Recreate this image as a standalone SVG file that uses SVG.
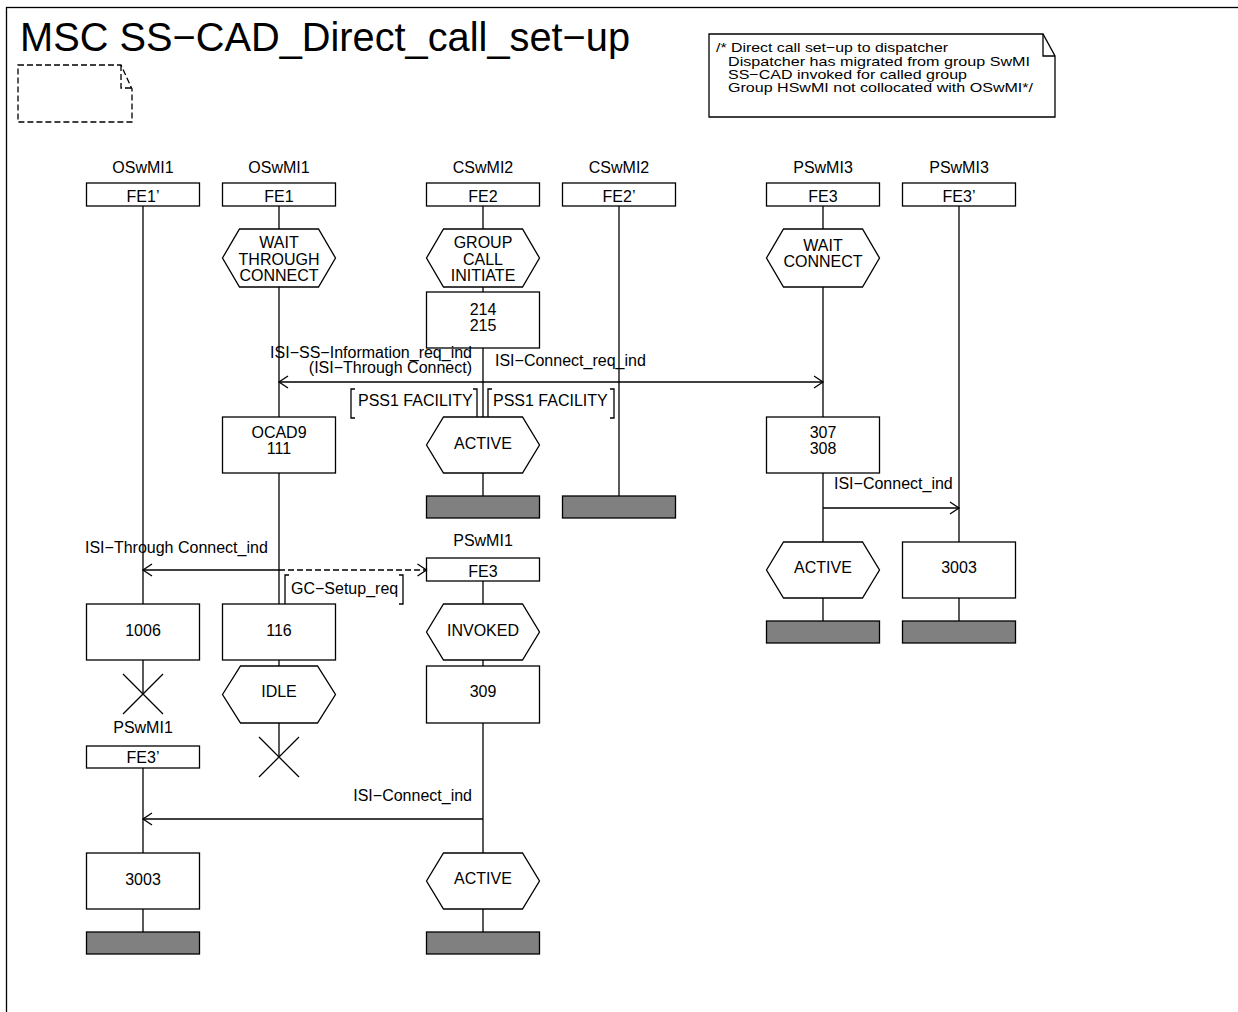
<svg xmlns="http://www.w3.org/2000/svg" width="1238" height="1012" viewBox="0 0 1238 1012">
<style>
text{font-family:"Liberation Sans",Arial,sans-serif;font-size:16px;fill:#000}
.c{text-anchor:middle}
.r{text-anchor:end}
.s{fill:#fff;stroke:#000;stroke-width:1.3}
.l{stroke:#000;stroke-width:1.3;fill:none}
.bar{fill:#808080;stroke:#000;stroke-width:1.3}
.d{stroke:#000;stroke-width:1.3;fill:none;stroke-dasharray:6 3}
.cm{font-size:13.5px}
</style>
<defs>
<marker id="ah" markerUnits="userSpaceOnUse" markerWidth="12" markerHeight="14" refX="10" refY="7" orient="auto">
<path d="M1,1 L10,7 L1,13" fill="none" stroke="#000" stroke-width="1.3"/>
</marker>
</defs>
<rect width="1238" height="1012" fill="#fff"/>
<rect x="6.5" y="7.5" width="1260" height="1030" class="l"/>
<text x="20" y="51" style="font-size:40px" textLength="610" lengthAdjust="spacingAndGlyphs">MSC SS−CAD_Direct_call_set−up</text>
<g id="note">
<path d="M18,65 H121 L132,89 V122 H18 Z" class="d" stroke-dasharray="5 3"/>
<path d="M121,65 V88 H132" class="d" stroke-dasharray="5 3"/>
</g>
<g id="comment">
<path d="M709,34 H1043 L1055,56 V117 H709 Z" class="s"/>
<path d="M1043,34 V56 H1055" class="l"/>
<text x="716" y="52" class="cm" textLength="232" lengthAdjust="spacingAndGlyphs">/* Direct call set−up to dispatcher</text>
<text x="728" y="65.5" class="cm" textLength="302" lengthAdjust="spacingAndGlyphs">Dispatcher has migrated from group SwMI</text>
<text x="728" y="78.5" class="cm" textLength="239" lengthAdjust="spacingAndGlyphs">SS−CAD invoked for called group</text>
<text x="728" y="92" class="cm" textLength="305" lengthAdjust="spacingAndGlyphs">Group HSwMI not collocated with OSwMI*/</text>
</g>
<g id="lifelines" class="l">
<path d="M143,206 V604 M143,660 V694"/>
<path d="M279,206 V229 M279,287 V417 M279,473 V604 M279,660 V666 M279,723 V757"/>
<path d="M483,206 V229 M483,287 V292 M483,348 V417 M483,473 V496"/>
<path d="M619,206 V496"/>
<path d="M823,206 V229 M823,287 V417 M823,473 V542 M823,598 V621"/>
<path d="M959,206 V542 M959,598 V621"/>
<path d="M483,581 V604 M483,660 V666 M483,723 V853 M483,909 V932"/>
<path d="M143,768 V853 M143,909 V932"/>
</g>
<g id="inst-FE1p">
<text x="143" y="173" class="c">OSwMI1</text>
<rect x="86.5" y="183" width="113" height="23" class="s"/>
<text x="143" y="202" class="c">FE1’</text>
</g>
<g id="inst-FE1">
<text x="279" y="173" class="c">OSwMI1</text>
<rect x="222.5" y="183" width="113" height="23" class="s"/>
<text x="279" y="202" class="c">FE1</text>
</g>
<g id="inst-FE2">
<text x="483" y="173" class="c">CSwMI2</text>
<rect x="426.5" y="183" width="113" height="23" class="s"/>
<text x="483" y="202" class="c">FE2</text>
</g>
<g id="inst-FE2p">
<text x="619" y="173" class="c">CSwMI2</text>
<rect x="562.5" y="183" width="113" height="23" class="s"/>
<text x="619" y="202" class="c">FE2’</text>
</g>
<g id="inst-FE3">
<text x="823" y="173" class="c">PSwMI3</text>
<rect x="766.5" y="183" width="113" height="23" class="s"/>
<text x="823" y="202" class="c">FE3</text>
</g>
<g id="inst-FE3p">
<text x="959" y="173" class="c">PSwMI3</text>
<rect x="902.5" y="183" width="113" height="23" class="s"/>
<text x="959" y="202" class="c">FE3’</text>
</g>
<g id="st-wait-through">
<path d="M222.5,258 L239.5,229 H318.5 L335.5,258 L318.5,287 H239.5 Z" class="s"/>
<text x="279" y="248" class="c">WAIT</text>
<text x="279" y="264.5" class="c">THROUGH</text>
<text x="279" y="281" class="c">CONNECT</text>
</g>
<g id="st-group-call">
<path d="M426.5,258 L443.5,229 H522.5 L539.5,258 L522.5,287 H443.5 Z" class="s"/>
<text x="483" y="248" class="c">GROUP</text>
<text x="483" y="264.5" class="c">CALL</text>
<text x="483" y="281" class="c">INITIATE</text>
</g>
<g id="st-wait-connect">
<path d="M766.5,258 L783.5,229 H862.5 L879.5,258 L862.5,287 H783.5 Z" class="s"/>
<text x="823" y="251" class="c">WAIT</text>
<text x="823" y="267" class="c">CONNECT</text>
</g>
<g id="act-214">
<rect x="426.5" y="292" width="113" height="56" class="s"/>
<text x="483" y="315" class="c">214</text>
<text x="483" y="331" class="c">215</text>
</g>
<g id="pss1-left" class="l">
<path d="M355,389 H351 V418 H355 M473,389 H477 V418 H473"/>
</g>
<text x="358" y="406">PSS1 FACILITY</text>
<g id="pss1-right" class="l">
<path d="M492,389 H488 V418 H492 M610,389 H614 V418 H610"/>
</g>
<text x="493" y="406">PSS1 FACILITY</text>
<g id="act-ocad9">
<rect x="222.5" y="417" width="113" height="56" class="s"/>
<text x="279" y="438" class="c">OCAD9</text>
<text x="279" y="454" class="c">111</text>
</g>
<g id="st-active-fe2">
<path d="M426.5,445 L443.5,417 H522.5 L539.5,445 L522.5,473 H443.5 Z" class="s"/>
<text x="483" y="449" class="c">ACTIVE</text>
</g>
<g id="act-307">
<rect x="766.5" y="417" width="113" height="56" class="s"/>
<text x="823" y="438" class="c">307</text>
<text x="823" y="454" class="c">308</text>
</g>
<rect id="end-fe2" x="426.5" y="496" width="113" height="22" class="bar"/>
<rect id="end-fe2p" x="562.5" y="496" width="113" height="22" class="bar"/>
<g id="st-active-fe3">
<path d="M766.5,570 L783.5,542 H862.5 L879.5,570 L862.5,598 H783.5 Z" class="s"/>
<text x="823" y="573" class="c">ACTIVE</text>
</g>
<g id="act-3003-fe3p">
<rect x="902.5" y="542" width="113" height="56" class="s"/>
<text x="959" y="573" class="c">3003</text>
</g>
<rect id="end-fe3" x="766.5" y="621" width="113" height="22" class="bar"/>
<rect id="end-fe3p" x="902.5" y="621" width="113" height="22" class="bar"/>
<g id="inst-PSwMI1-FE3">
<text x="483" y="546" class="c">PSwMI1</text>
<rect x="426.5" y="558" width="113" height="23" class="s"/>
<text x="483" y="577" class="c">FE3</text>
</g>
<g id="gc-setup" class="l">
<path d="M289,575 H285 V604 M399,575 H403 V604 H399"/>
</g>
<text x="291" y="594">GC−Setup_req</text>
<g id="act-1006">
<rect x="86.5" y="604" width="113" height="56" class="s"/>
<text x="143" y="636" class="c">1006</text>
</g>
<g id="act-116">
<rect x="222.5" y="604" width="113" height="56" class="s"/>
<text x="279" y="636" class="c">116</text>
</g>
<g id="st-invoked">
<path d="M426.5,632 L443.5,604 H522.5 L539.5,632 L522.5,660 H443.5 Z" class="s"/>
<text x="483" y="636" class="c">INVOKED</text>
</g>
<g id="stop-fe1p" class="l"><path d="M123,674 L163,714 M163,674 L123,714"/></g>
<g id="st-idle">
<path d="M222.5,694.5 L240.5,666 H317.5 L335.5,694.5 L317.5,723 H240.5 Z" class="s"/>
<text x="279" y="697" class="c">IDLE</text>
</g>
<g id="stop-fe1" class="l"><path d="M259,737 L299,777 M299,737 L259,777"/></g>
<g id="act-309">
<rect x="426.5" y="666" width="113" height="57" class="s"/>
<text x="483" y="697" class="c">309</text>
</g>
<g id="inst-PSwMI1-FE3p">
<text x="143" y="733" class="c">PSwMI1</text>
<rect x="86.5" y="746" width="113" height="22" class="s"/>
<text x="143" y="763" class="c">FE3’</text>
</g>
<g id="act-3003-b">
<rect x="86.5" y="853" width="113" height="56" class="s"/>
<text x="143" y="885" class="c">3003</text>
</g>
<g id="st-active-b">
<path d="M426.5,881 L443.5,853 H522.5 L539.5,881 L522.5,909 H443.5 Z" class="s"/>
<text x="483" y="884" class="c">ACTIVE</text>
</g>
<rect id="end-b1" x="86.5" y="932" width="113" height="22" class="bar"/>
<rect id="end-b2" x="426.5" y="932" width="113" height="22" class="bar"/>
<g id="connectors">
<line x1="483" y1="382" x2="279" y2="382" class="l" marker-end="url(#ah)"/>
<line x1="483" y1="382" x2="823" y2="382" class="l" marker-end="url(#ah)"/>
<line x1="823" y1="508" x2="959" y2="508" class="l" marker-end="url(#ah)"/>
<line x1="279" y1="570" x2="143" y2="570" class="l" marker-end="url(#ah)"/>
<line x1="279" y1="570" x2="426.5" y2="570" class="d" marker-end="url(#ah)"/>
<line x1="483" y1="819" x2="143" y2="819" class="l" marker-end="url(#ah)"/>
</g>
<text x="472" y="358" class="r">ISI−SS−Information_req_ind</text>
<text x="472" y="373" class="r">(ISI−Through Connect)</text>
<text x="495" y="366">ISI−Connect_req_ind</text>
<text x="834" y="489">ISI−Connect_ind</text>
<text x="85" y="553">ISI−Through Connect_ind</text>
<text x="472" y="801" class="r">ISI−Connect_ind</text>
</svg>
